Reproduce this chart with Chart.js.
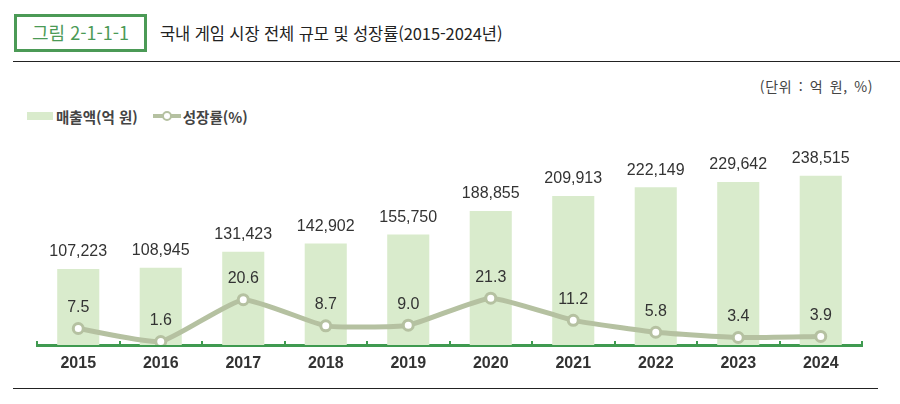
<!DOCTYPE html>
<html lang="ko">
<head>
  <meta charset="UTF-8">
  <title>국내 게임 시장 전체 규모 및 성장률</title>
  <style>
    * { box-sizing: border-box; margin: 0; padding: 0; }
    body {
      width: 900px; height: 404px; position: relative; overflow: hidden;
      background: #fff; color: #333;
      font-family: "Noto Sans CJK KR", "Liberation Sans", sans-serif;
    }
    .fig-box {
      position: absolute; left: 14px; top: 14px; width: 133px; height: 38px;
      border: 3px solid #4b9a56; color: #4b9a56;
      font-size: 18px; line-height: 31px; text-align: center;
    }
    .title {
      position: absolute; left: 160px; top: 20px; font-size: 16.5px; line-height: 26px;
      color: #222; letter-spacing: -0.1px;
    }
    .rule { position: absolute; left: 13px; height: 0; border-top: 1.5px solid #222; }
    .unit {
      position: absolute; right: 27px; top: 76px; font-size: 14px; color: #444;
      letter-spacing: 0.6px; word-spacing: 2px;
    }
    .legend {
      position: absolute; left: 27px; top: 105px; font-size: 14.5px; font-weight: bold; color: #444;
      display: flex; align-items: center; height: 22px;
    }
    .sw-bar { width: 26px; height: 8px; background: #d9ebcc; margin-right: 3px; }
    .sw-line { position: relative; width: 28px; height: 12px; margin: 0 2px 0 15px; }
    .sw-line::before {
      content: ""; position: absolute; left: 0; right: 0; top: 4px; height: 4px; background: #b5c1a1;
    }
    .sw-line::after {
      content: ""; position: absolute; left: 9px; top: 1px; width: 6px; height: 6px;
      border: 2.5px solid #b5c1a1; border-radius: 50%; background: #fff;
    }
    #wrap { position: absolute; left: 0; top: 0; width: 900px; height: 404px; }
  </style>
</head>
<body>
  <div class="fig-box">그림 2-1-1-1</div>
  <div class="title">국내 게임 시장 전체 규모 및 성장률(2015-2024년)</div>
  <div class="rule" style="top:61px; width:887px;"></div>
  <div class="unit">(단위 : 억 원, %)</div>
  <div class="legend">
    <span class="sw-bar"></span>매출액(억 원)
    <span class="sw-line"></span>성장률(%)
  </div>
  <div class="rule" style="top:388px; width:865px;"></div>

  <div id="wrap"><canvas id="chart"></canvas></div>

  <script src="https://cdn.jsdelivr.net/npm/chart.js"></script>
  <script>
    // 데이터
    const years = ['2015', '2016', '2017', '2018', '2019', '2020', '2021', '2022', '2023', '2024'];
    const sales = [107223, 108945, 131423, 142902, 155750, 188855, 209913, 222149, 229642, 238515];
    const growth = [7.5, 1.6, 20.6, 8.7, 9.0, 21.3, 11.2, 5.8, 3.4, 3.9];

    const green = '#3f9a50';
    const numFont = '16px "Liberation Sans", Arial, sans-serif';

    // value labels + small axis ticks
    const labelPlugin = {
      id: 'labels',
      afterDatasetsDraw(chart) {
        const ctx = chart.ctx;
        const x = chart.scales.x;
        const bottom = chart.chartArea.bottom;
        const half = (x.getPixelForValue(1) - x.getPixelForValue(0)) / 2;

        ctx.save();
        ctx.strokeStyle = green;
        ctx.lineWidth = 2;
        for (let i = 0; i <= years.length; i++) {
          const px = Math.round(x.getPixelForValue(i) - half);
          ctx.beginPath();
          ctx.moveTo(px, bottom - 4);
          ctx.lineTo(px, bottom);
          ctx.stroke();
        }

        ctx.font = numFont;
        ctx.fillStyle = '#333';
        ctx.textAlign = 'center';
        ctx.textBaseline = 'middle';
        chart.getDatasetMeta(0).data.forEach((el, i) => {
          ctx.fillText(sales[i].toLocaleString('en-US'), el.x, el.y - 17);
        });
        chart.getDatasetMeta(1).data.forEach((el, i) => {
          ctx.fillText(growth[i].toFixed(1), el.x, el.y - 21);
        });
        ctx.restore();
      }
    };

    new Chart(document.getElementById('chart'), {
      data: {
        labels: years,
        datasets: [
          {
            type: 'bar',
            label: '매출액(억 원)',
            data: sales,
            backgroundColor: '#d9ebcc',
            barPercentage: 0.51,
            categoryPercentage: 1,
            yAxisID: 'y',
            order: 2
          },
          {
            type: 'line',
            label: '성장률(%)',
            data: growth,
            borderColor: '#b5c1a1',
            borderWidth: 5,
            pointRadius: 5,
            pointBorderWidth: 3,
            pointBackgroundColor: '#fff',
            pointBorderColor: '#b5c1a1',
            tension: 0.15,
            yAxisID: 'y2',
            order: 1
          }
        ]
      },
      options: {
        responsive: true,
        maintainAspectRatio: false,
        animation: false,
        layout: { padding: { left: 37, right: 38, top: 125, bottom: 0 } },
        plugins: { legend: { display: false }, tooltip: { enabled: false } },
        scales: {
          x: {
            grid: { display: false, drawTicks: false },
            border: { display: true, color: green, width: 3 },
            ticks: {
              padding: 9,
              color: '#333',
              font: { family: '"Liberation Sans", Arial, sans-serif', size: 16, weight: 'bold' }
            },
            afterFit(scale) { scale.height = 59; }
          },
          y: { display: false, min: 0, max: 310000 },
          y2: { display: false, min: 0, max: 100, position: 'right' }
        }
      },
      plugins: [labelPlugin]
    });
  </script>
</body>
</html>
